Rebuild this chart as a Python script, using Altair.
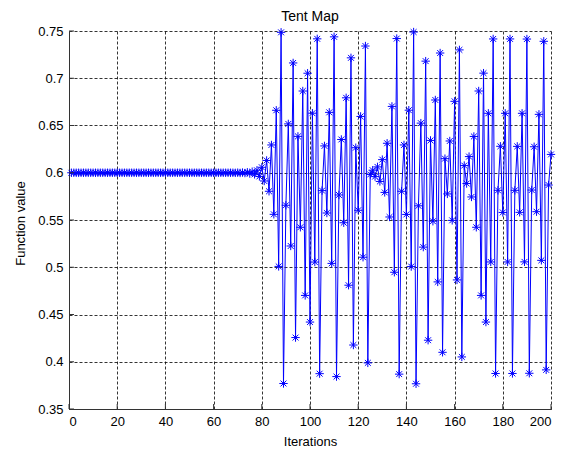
import altair as alt
import pandas as pd

# ---- data (iteration 1..200) ----
iterations = list(range(1, 201))

values_1_60 = [
    0.6, 0.6, 0.6, 0.6, 0.6, 0.6, 0.6, 0.6, 0.6, 0.6,
    0.6, 0.6, 0.6, 0.6, 0.6, 0.6, 0.6, 0.6, 0.6, 0.6,
    0.6, 0.6, 0.6, 0.6, 0.6, 0.6, 0.6, 0.6, 0.6, 0.6,
    0.6, 0.6, 0.6, 0.6, 0.6, 0.6, 0.6, 0.6, 0.6, 0.6,
    0.6, 0.6, 0.6, 0.6, 0.6, 0.6, 0.6, 0.6, 0.6, 0.6,
    0.6, 0.6, 0.6, 0.6, 0.6, 0.6, 0.6, 0.6, 0.6, 0.6,
]
values_61_100 = [
    0.6000, 0.6000, 0.6000, 0.6000, 0.6000, 0.6000, 0.6000, 0.6000, 0.5999, 0.6001,
    0.5998, 0.6002, 0.5997, 0.6005, 0.5992, 0.6011, 0.5983, 0.6026, 0.5961, 0.6058,
    0.5913, 0.6130, 0.5804, 0.6294, 0.5560, 0.6661, 0.5009, 0.7486, 0.3770, 0.5656,
    0.6517, 0.5225, 0.7162, 0.4256, 0.6385, 0.5423, 0.6865, 0.4702, 0.7053, 0.4420,
]
values_101_140 = [
    0.6630, 0.5055, 0.7417, 0.3874, 0.5811, 0.6284, 0.5574, 0.6639, 0.5041, 0.7438,
    0.3843, 0.5765, 0.6352, 0.5471, 0.6793, 0.4810, 0.7216, 0.4177, 0.6265, 0.5603,
    0.6596, 0.5106, 0.7341, 0.3988, 0.5982, 0.6027, 0.5959, 0.6062, 0.5908, 0.6139,
    0.5792, 0.6312, 0.5532, 0.6702, 0.4947, 0.7420, 0.3869, 0.5804, 0.6294, 0.5559,
]
values_141_200 = [
    0.6662, 0.5007, 0.7489, 0.3767, 0.5650, 0.6525, 0.5213, 0.7181, 0.4228, 0.6342,
    0.5487, 0.6770, 0.4845, 0.7267, 0.4100, 0.6149, 0.5776, 0.6336, 0.5496, 0.6756,
    0.4866, 0.7300, 0.4051, 0.6076, 0.5886, 0.6171, 0.5744, 0.6384, 0.5423, 0.6865,
    0.4702, 0.7054, 0.4420, 0.6629, 0.5056, 0.7416, 0.3876, 0.5814, 0.6280, 0.5580,
    0.6629, 0.5056, 0.7416, 0.3876, 0.5814, 0.6279, 0.5581, 0.6629, 0.5057, 0.7415,
    0.3878, 0.5817, 0.6275, 0.5588, 0.6618, 0.5073, 0.7391, 0.3914, 0.5870, 0.6194,
]
function_values = values_1_60 + values_61_100 + values_101_140 + values_141_200

x_ticks = [0, 20, 40, 60, 80, 100, 120, 140, 160, 180, 200]
y_ticks = [0.35, 0.4, 0.45, 0.5, 0.55, 0.6, 0.65, 0.7, 0.75]
chart_title = ["Tent Map"]

df = pd.DataFrame({"Iterations": iterations, "Function value": function_values})
xt = pd.DataFrame({"t": x_ticks})
yt = pd.DataFrame({"t": y_ticks})
tt = pd.DataFrame({"title": chart_title})

W, H = 482, 378
FONT = "Liberation Sans"
ASTERISK = "M-1,0L1,0M0,-1L0,1M-0.7,-0.7L0.7,0.7M-0.7,0.7L0.7,-0.7"

x_scale = alt.Scale(domain=[0, 200], nice=False, zero=False)
y_scale = alt.Scale(domain=[0.35, 0.75], nice=False, zero=False)

x_axis = alt.Axis(values=x_ticks, format="d", title="Iterations",
                  grid=True, gridColor="black", gridDash=[3, 2], gridWidth=0.8,
                  ticks=False, tickSize=0, labelPadding=6,
                  domainColor="#333333", labelColor="black", titleColor="black",
                  labelFont=FONT, labelFontSize=13, titleFont=FONT, titleFontSize=13,
                  titleFontWeight="normal", titleBaseline="alphabetic", titleY=36)
y_axis = alt.Axis(values=y_ticks, format=".2~f", title="Function value",
                  grid=True, gridColor="black", gridDash=[3, 2], gridWidth=0.8,
                  ticks=False, tickSize=0, labelPadding=6,
                  domainColor="#333333", labelColor="black", titleColor="black",
                  labelFont=FONT, labelFontSize=13, titleFont=FONT, titleFontSize=13,
                  titleFontWeight="normal", titleBaseline="alphabetic", titleX=-45, titleY=192)

line = alt.Chart(df).mark_line(color="#0000ff", strokeWidth=1).encode(
    x=alt.X("Iterations:Q", scale=x_scale, axis=x_axis),
    y=alt.Y("Function value:Q", scale=y_scale, axis=y_axis),
)
points = alt.Chart(df).mark_point(shape=ASTERISK, filled=False, size=70,
                                  color="#0000ff", strokeWidth=1, opacity=1).encode(
    x=alt.X("Iterations:Q", scale=x_scale),
    y=alt.Y("Function value:Q", scale=y_scale),
)
xtick_marks = alt.Chart(xt).mark_rule(color="#333333", strokeWidth=1).encode(
    x=alt.X("t:Q", scale=x_scale),
    y=alt.value(H), y2=alt.value(H - 5),
)
ytick_marks = alt.Chart(yt).mark_rule(color="#333333", strokeWidth=1).encode(
    y=alt.Y("t:Q", scale=y_scale),
    x=alt.value(0), x2=alt.value(5),
)
title_mark = alt.Chart(tt).mark_text(font=FONT, fontSize=14, color="black",
                                     align="center", baseline="alphabetic").encode(
    text="title:N",
    x=alt.value(W / 2), y=alt.value(-10),
)

chart = alt.layer(line, points, xtick_marks, ytick_marks, title_mark).properties(
    width=W, height=H,
    autosize=alt.AutoSizeParams(type="none"),
    padding={"left": 61, "top": 23, "right": 20, "bottom": 40},
    background="white",
).configure_view(strokeWidth=0)

chart.save("out.html", embed_options={"renderer": "svg", "actions": False})
